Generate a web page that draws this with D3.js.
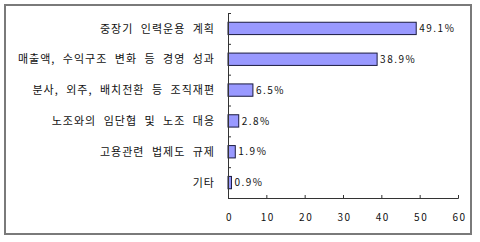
<!DOCTYPE html>
<html><head><meta charset="utf-8">
<script src="https://cdn.jsdelivr.net/npm/d3@7"></script>
<style>
html,body{margin:0;padding:0;background:#fff;}
text{font-family:"Noto Sans CJK KR","Noto Sans",sans-serif;font-size:10px;fill:#111;letter-spacing:1.5px;}
</style></head>
<body><svg id="c" width="480" height="242"></svg>
<script>
const categories = ["중장기 인력운용 계획","매출액, 수익구조 변화 등 경영 성과","분사, 외주, 배치전환 등 조직재편","노조와의 임단협 및 노조 대응","고용관련 법제도 규제","기타"];
const values = [49.1, 38.9, 6.5, 2.8, 1.9, 0.9];
const xTicks = [0, 10, 20, 30, 40, 50, 60];

const svg = d3.select("#c");
svg.append("rect").attr("x",5).attr("y",5).attr("width",466).attr("height",229)
  .attr("fill","#fff").attr("stroke","#7a7a7a").attr("stroke-width",2);

const x0 = 228, x1 = 458, yTop = 13, yBot = 198;
const x = d3.scaleLinear().domain([0,60]).range([x0,x1]);
const y = d3.scaleBand().domain(categories).range([yTop,yBot]).paddingInner(0.6).paddingOuter(0.3);
const yb = d3.scaleLinear().domain([0,categories.length]).range([yTop,yBot]);

// bars
svg.append("g").selectAll("rect").data(values).join("rect")
  .attr("x", x(0)).attr("y",(d,i)=>y(categories[i]))
  .attr("width", d=>x(d)-x(0)).attr("height", y.bandwidth())
  .attr("fill","#9999ff").attr("stroke","#1a1a40").attr("stroke-width",1);

// value labels
svg.append("g").selectAll("text").data(values).join("text")
  .attr("x", d=>x(d)+3).attr("y",(d,i)=>y(categories[i])+y.bandwidth()/2)
  .attr("dy","0.36em").text(d=>d.toFixed(1)+"%");

// category labels
svg.append("g").selectAll("text").data(categories).join("text")
  .attr("x", 215).attr("y", d=>y(d)+y.bandwidth()/2).attr("dy","0.38em")
  .attr("text-anchor","end")
  .style("font-size","11px").style("letter-spacing","1px").style("word-spacing","4px")
  .text(d=>d);

// x axis
const gx = svg.append("g").attr("transform",`translate(0,${yBot})`)
  .call(d3.axisBottom(x).tickValues(xTicks).tickSizeInner(-3).tickSizeOuter(-3).tickPadding(16).tickFormat(d=>d));
gx.attr("font-family",null).attr("font-size",null);
gx.selectAll("text").attr("fill","#111").attr("dx","0.1em");
gx.selectAll("path,line").attr("stroke","#333");

// y axis (category boundaries)
const gy = svg.append("g").attr("transform",`translate(${x0},0)`)
  .call(d3.axisLeft(yb).tickValues(d3.range(categories.length+1)).tickSizeInner(-3).tickSizeOuter(-3).tickFormat(""));
gy.selectAll("path,line").attr("stroke","#333");
</script></body></html>
